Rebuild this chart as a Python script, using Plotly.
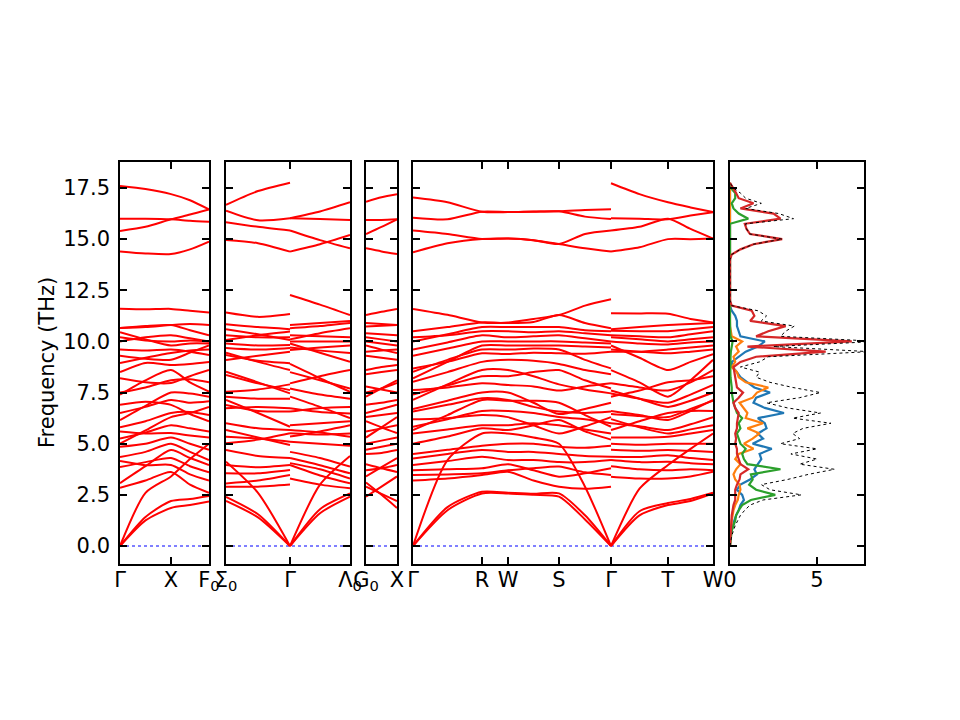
import plotly.graph_objects as go

# ---- band structure: frequencies (THz) of the 33 branches at sampled q-points ----
# (each list is in branch order, so branches can cross between q-points)
# panel 1: Gamma - X - F0
P1_K = [0.0, 0.255, 0.51, 0.70, 0.89]
P1_G = [0, 0, 0, 2.85, 4.15, 3.86, 3.07, 4.35, 4.85, 5.6, 5.25, 5.0, 5.8, 6.9, 6.5, 6.15, 8.2, 7.5,
        7.4, 8.5, 9.3, 8.95, 9.6, 10.45, 10.2, 10.0, 10.65, 10.65, 11.6, 14.4, 15.4, 16.0, 17.6]
P1_M1 = [1.25, 1.42, 2.6, 3.2, 3.95, 4.1, 3.9, 4.6, 5.0, 5.5, 5.55, 5.65, 6.1, 7.05, 6.8, 6.85, 8.0, 7.75,
         8.1, 8.95, 9.15, 9.2, 9.55, 10.1, 10.05, 10.2, 10.75, 10.7, 11.57, 14.3, 15.6, 16.0, 17.45]
X_PT = [1.86, 2.2, 3.4, 3.62, 3.96, 4.3, 4.69, 5.0, 5.3, 5.52, 5.9, 6.3, 6.5, 6.9, 7.14, 7.5, 7.97, 8.1,
        8.6, 8.85, 9.1, 9.43, 9.6, 9.8, 10.0, 10.3, 10.8, 10.8, 11.59, 14.27, 15.97, 15.97, 17.2]
P1_M2 = [2.0, 2.3, 4.25, 3.0, 3.5, 3.9, 4.3, 4.6, 5.0, 5.4, 5.75, 6.5, 6.55, 6.45, 7.0, 7.45, 8.3, 8.15,
         8.0, 8.9, 9.45, 9.55, 9.5, 9.9, 10.05, 10.15, 10.55, 10.85, 11.5, 14.5, 16.2, 15.9, 16.9]
P1_F0 = [2.17, 2.45, 5.0, 2.6, 3.2, 3.6, 3.96, 4.2, 4.7, 5.3, 5.6, 6.8, 6.4, 6.1, 7.07, 7.3, 8.6, 8.0,
         7.55, 9.0, 9.8, 9.6, 9.34, 9.9, 10.0, 10.0, 10.3, 10.8, 11.41, 14.88, 16.45, 15.85, 16.45]

# panel 2: Sigma0 - Gamma | Gamma - Lambda0
P2A_K = [0.0, 0.32, 0.64]
P2_S0 = [2.2, 2.4, 4.12, 2.9, 3.06, 3.55, 3.96, 4.69, 5.67, 5.34, 5.02, 6.0, 7.14, 6.89, 6.73, 7.3, 8.52, 8.36,
         7.54, 9.45, 9.34, 9.09, 9.68, 9.9, 10.6, 10.3, 10.07, 10.84, 11.41, 14.96, 15.83, 16.39, 16.67]
P2_M1 = [1.4, 1.55, 2.6, 2.9, 3.2, 3.55, 3.85, 4.4, 5.3, 5.25, 5.2, 5.75, 6.5, 6.6, 6.8, 7.2, 8.0, 7.95,
         7.65, 9.0, 9.05, 9.3, 9.6, 9.8, 10.35, 10.2, 10.3, 10.7, 11.2, 14.8, 15.6, 15.92, 17.35]
P2_GL = [0, 0, 0, 3.0, 3.47, 3.71, 3.96, 4.3, 4.94, 5.1, 5.51, 5.67, 5.83, 6.57, 6.73, 7.2, 7.46, 7.62,
         7.9, 8.6, 8.93, 9.5, 9.68, 9.83, 10.07, 10.2, 10.48, 10.6, 11.34, 14.39, 15.42, 16.02, 17.76]
P2B_K = [0.64, 0.94, 1.24]
P2_GR = [0, 0, 0, 3.3, 3.96, 4.05, 4.3, 4.6, 5.1, 5.35, 5.51, 5.67, 5.9, 6.57, 6.73, 7.3, 7.7, 7.95,
         8.5, 8.9, 9.58, 9.7, 9.9, 10.0, 10.1, 10.3, 10.64, 10.8, 12.27, 14.39, 15.42, 16.02, 16.02]
P2_M2 = [1.6, 1.8, 3.0, 3.0, 3.45, 3.75, 3.95, 4.3, 5.0, 5.6, 5.45, 5.55, 6.0, 6.75, 6.55, 6.8, 7.4, 8.3,
         8.1, 8.2, 9.7, 9.55, 9.45, 10.0, 10.4, 10.25, 10.75, 10.9, 11.8, 14.75, 14.95, 15.98, 16.35]
P2_L0 = [2.41, 2.57, 4.4, 2.82, 3.06, 3.3, 3.55, 3.88, 4.9, 5.9, 5.5, 5.34, 6.1, 6.8, 6.48, 6.25, 7.2, 8.6,
         7.7, 7.54, 9.8, 9.43, 9.0, 10.0, 10.64, 10.2, 10.9, 11.0, 11.29, 15.2, 14.55, 15.94, 16.8]

# panel 3: G0 - X
P3_K = [0.0, 0.155, 0.31]
P3_G0 = [3.1, 2.9, 2.41, 4.0, 3.7, 3.4, 4.5, 4.7, 5.0, 6.1, 5.6, 5.3, 6.3, 6.5, 6.9, 7.8, 7.5, 7.3,
         8.4, 8.6, 9.3, 9.8, 9.5, 10.0, 10.2, 10.4, 10.73, 10.9, 11.29, 14.55, 15.25, 15.94, 16.83]
P3_M = [2.5, 2.55, 2.9, 3.8, 3.8, 3.85, 4.55, 4.85, 5.15, 5.8, 5.75, 5.8, 6.4, 6.7, 7.0, 7.65, 7.7, 7.7,
        8.5, 8.75, 9.2, 9.6, 9.55, 9.9, 10.1, 10.35, 10.77, 10.85, 11.45, 14.4, 15.6, 15.94, 17.05]

# panel 4: Gamma - R - W - S - Gamma | Gamma - T - W
P4A_K = [0.0, 0.345, 0.69, 0.95, 1.205, 1.46, 1.72, 1.98]
P4_G1 = [0, 0, 3.2, 3.47, 3.7, 3.96, 4.28, 4.5, 0, 5.0, 5.5, 6.2, 5.83, 5.67, 6.57, 6.7, 7.62, 7.4,
         7.14, 8.03, 8.68, 8.52, 8.2, 9.3, 9.6, 10.2, 10.0, 10.5, 11.59, 14.36, 15.42, 16.05, 17.03]
P4_M1 = [1.75, 1.9, 3.3, 3.5, 3.75, 4.15, 4.5, 4.7, 4.2, 5.35, 5.7, 6.25, 6.2, 6.4, 6.9, 7.1, 7.75, 7.85,
         7.9, 8.5, 9.0, 9.1, 9.0, 9.65, 9.95, 10.3, 10.35, 10.7, 11.3, 14.8, 15.25, 15.97, 16.8]
P4_R = [2.57, 2.65, 3.47, 3.55, 3.8, 4.36, 4.69, 4.9, 5.5, 5.75, 5.9, 6.4, 6.6, 7.14, 7.22, 7.5, 7.95, 8.3,
        8.6, 9.0, 9.42, 9.6, 9.8, 10.0, 10.3, 10.5, 10.7, 10.93, 10.93, 15.01, 15.01, 16.34, 16.34]
W_PT = [2.57, 2.6, 3.63, 3.7, 4.0, 4.2, 4.6, 5.0, 5.5, 5.67, 5.9, 6.3, 6.6, 7.1, 7.14, 7.5, 7.87, 8.3,
        8.6, 9.1, 9.38, 9.6, 9.8, 10.0, 10.2, 10.5, 10.7, 10.9, 10.93, 15.03, 15.03, 16.32, 16.32]
P4_M2 = [2.5, 2.55, 3.2, 3.8, 3.7, 4.2, 4.6, 5.0, 5.3, 5.9, 6.0, 5.9, 6.5, 7.1, 6.8, 7.0, 7.8, 8.5,
         8.3, 9.05, 9.45, 9.65, 9.8, 10.0, 10.25, 10.45, 10.7, 10.95, 11.1, 14.95, 14.95, 16.34, 16.35]
P4_S = [2.41, 2.57, 2.9, 3.88, 3.39, 4.1, 4.5, 4.85, 5.0, 6.16, 5.9, 5.5, 6.3, 7.0, 6.57, 6.45, 7.6, 8.6,
        7.9, 8.9, 9.42, 9.6, 9.8, 10.0, 10.3, 10.5, 10.7, 11.29, 11.29, 14.76, 14.76, 16.36, 16.36]
P4_M3 = [1.3, 1.5, 2.8, 3.6, 3.55, 4.1, 4.4, 4.8, 2.9, 5.6, 5.7, 5.85, 6.2, 6.4, 6.5, 6.7, 7.8, 8.1,
         7.65, 8.6, 9.4, 9.1, 9.75, 9.95, 10.15, 10.4, 10.55, 10.9, 11.75, 14.55, 15.25, 16.1, 16.42]
P4_G2 = [0, 0, 2.9, 3.47, 3.8, 4.2, 4.36, 4.9, 0, 5.2, 5.5, 6.3, 6.0, 5.83, 6.57, 7.0, 7.95, 7.7,
         7.46, 8.4, 9.5, 8.68, 9.7, 9.9, 10.0, 10.3, 10.5, 10.64, 12.06, 14.39, 15.42, 15.98, 16.46]
P4B_K = [1.98, 2.265, 2.55, 2.775, 3.0]
P4_G3 = [0, 0, 3.39, 3.9, 4.2, 4.36, 4.7, 5.0, 0, 5.3, 6.2, 6.0, 5.67, 6.45, 6.6, 7.6, 7.45, 7.3,
         7.95, 8.6, 9.8, 9.6, 9.5, 10.0, 10.2, 10.3, 10.52, 10.6, 11.38, 14.39, 15.42, 16.02, 17.73]
P4_M4 = [1.5, 1.7, 3.3, 3.75, 4.1, 4.35, 4.65, 4.95, 2.8, 5.3, 5.8, 5.85, 6.1, 6.35, 6.4, 7.2, 7.2, 7.6,
         7.75, 8.0, 9.2, 9.5, 9.5, 9.9, 10.1, 10.25, 10.5, 10.7, 11.37, 14.6, 15.6, 16.0, 17.2]
P4_T = [2.0, 2.1, 3.3, 3.7, 4.12, 4.44, 4.69, 5.0, 3.96, 5.34, 5.5, 5.67, 6.5, 6.3, 6.16, 6.8, 7.0, 8.0,
        7.6, 7.3, 8.6, 9.42, 9.6, 9.85, 10.0, 10.2, 10.5, 10.8, 11.35, 15.0, 16.0, 15.97, 16.8]
P4_M5 = [2.2, 2.3, 3.4, 3.75, 4.05, 4.3, 4.65, 5.0, 4.75, 5.5, 5.7, 5.95, 6.6, 6.7, 6.6, 7.1, 7.4, 8.1,
         8.0, 8.1, 9.0, 9.5, 9.7, 9.95, 10.1, 10.35, 10.6, 10.85, 11.1, 15.0, 15.5, 16.15, 16.55]

# tick labels of each band panel
P1_TICKS = [0.0, 0.51, 0.89]
P1_LABELS = ["Γ", "X", "F<sub>0</sub>"]
P2_TICKS = [0.0, 0.64, 1.24]
P2_LABELS = ["Σ<sub>0</sub>", "Γ", "Λ<sub>0</sub>"]
P3_TICKS = [0.0, 0.31]
P3_LABELS = ["G<sub>0</sub>", "X"]
P4_TICKS = [0.0, 0.69, 0.95, 1.46, 1.98, 2.55, 3.0]
P4_LABELS = ["Γ", "R", "W", "S", "Γ", "T", "W"]

# ---- density of states ----
DOS_FREQ = [0.0, 0.25, 0.5, 0.75, 1.0, 1.25, 1.5, 1.75, 2.0, 2.25, 2.5, 2.75, 3.0, 3.25, 3.5, 3.75,
            4.0, 4.25, 4.5, 4.75, 5.0, 5.25, 5.5, 5.75, 6.0, 6.25, 6.5, 6.75, 7.0, 7.25, 7.5, 7.75,
            8.0, 8.25, 8.5, 8.75, 9.0, 9.25, 9.5, 9.75, 10.0, 10.25, 10.5, 10.75, 11.0, 11.25, 11.5, 11.75,
            12.0, 12.25, 12.5, 12.75, 13.0, 13.25, 13.5, 13.75, 14.0, 14.25, 14.5, 14.75, 15.0, 15.25, 15.5, 15.75,
            16.0, 16.25, 16.5, 16.75, 17.0, 17.25, 17.5, 17.75]
DOS_TOTAL = [0, 0.03, 0.1, 0.2, 0.3, 0.45, 0.6, 0.85, 1.15, 1.9, 4.1, 2.3, 1.8, 3.3, 4.5, 6.0,
             4.0, 5.0, 3.5, 5.0, 2.9, 4.0, 3.6, 4.2, 5.8, 3.6, 5.2, 3.3, 2.1, 4.0, 5.2, 3.6,
             2.3, 1.5, 1.7, 0.6, 1.7, 2.2, 8.0, 2.5, 8.5, 2.9, 3.2, 3.7, 1.8, 2.1, 1.6, 0.1,
             0, 0, 0, 0, 0, 0, 0, 0, 0, 0.1, 0.6, 1.35, 3.0, 1.15, 0.95, 0.9,
             3.65, 2.8, 0.9, 1.8, 0.9, 0.6, 0.2, 0]
DOS_BLUE = [0, 0.01, 0.03, 0.08, 0.15, 0.25, 0.35, 0.5, 0.6, 0.8, 0.7, 0.4, 0.6, 1.15, 1.55, 1.4,
            1.6, 1.8, 1.7, 2.4, 1.3, 1.9, 1.6, 2.1, 2.0, 1.6, 3.1, 2.0, 1.35, 1.5, 2.3, 1.4,
            1.0, 0.6, 0.4, 0.15, 0.1, 0.5, 0.9, 1.6, 2.0, 0.6, 0.5, 0.4, 0.4, 0.3, 0.1, 0,
            0, 0, 0, 0, 0, 0, 0, 0, 0, 0, 0, 0, 0, 0, 0, 0,
            0, 0, 0, 0, 0, 0, 0, 0]
DOS_ORANGE = [0, 0.01, 0.03, 0.05, 0.08, 0.1, 0.15, 0.2, 0.3, 0.45, 0.5, 0.6, 0.55, 0.3, 0.2, 0.35,
              0.6, 0.3, 0.5, 1.35, 0.8, 1.3, 1.7, 1.0, 1.9, 0.9, 1.0, 0.8, 0.55, 1.3, 1.55, 2.2,
              0.9, 0.5, 0.4, 0.1, 0.3, 0.2, 0.5, 0.35, 0.7, 0.1, 0.05, 0, 0, 0, 0, 0,
              0, 0, 0, 0, 0, 0, 0, 0, 0, 0, 0, 0, 0, 0, 0, 0,
              0, 0, 0, 0, 0, 0, 0, 0]
DOS_GREEN = [0, 0.02, 0.05, 0.1, 0.2, 0.3, 0.35, 0.5, 0.7, 1.2, 2.6, 1.5, 1.1, 1.3, 1.2, 2.9,
             1.0, 0.8, 0.7, 0.9, 0.6, 0.5, 0.4, 0.6, 0.5, 0.7, 0.4, 0.3, 0.2, 0.15, 0.1, 0.1,
             0.05, 0.03, 0.02, 0.01, 0.02, 0.03, 0.05, 0.1, 0.15, 0.02, 0, 0, 0, 0, 0, 0,
             0, 0, 0, 0, 0, 0, 0, 0, 0, 0, 0, 0, 0, 0, 0, 0,
             1.05, 0.5, 0.2, 0.1, 0.3, 0.3, 0.05, 0]
DOS_RED = [0, 0.01, 0.02, 0.03, 0.05, 0.08, 0.1, 0.15, 0.2, 0.3, 0.3, 0.3, 0.4, 0.55, 0.6, 1.05,
           0.6, 0.5, 0.4, 0.4, 0.3, 0.35, 0.3, 0.4, 0.4, 0.45, 0.5, 0.3, 0.2, 0.5, 0.75, 0.4,
           0.35, 0.3, 0.25, 0.2, 0.6, 1.5, 5.5, 1.0, 7.0, 1.5, 2.2, 3.2, 1.16, 1.4, 1.25, 0.1,
           0, 0, 0, 0, 0, 0, 0, 0, 0, 0.1, 0.6, 1.35, 3.0, 1.15, 0.95, 0.85,
           2.9, 2.5, 0.6, 1.35, 0.5, 0.35, 0.15, 0]

FREQ_TICKS = [0, 2.5, 5, 7.5, 10, 12.5, 15, 17.5]

pieces = [
    ("x", "y", P1_K, [P1_G, P1_M1, X_PT, P1_M2, P1_F0]),
    ("x2", "y2", P2A_K, [P2_S0, P2_M1, P2_GL]),
    ("x2", "y2", P2B_K, [P2_GR, P2_M2, P2_L0]),
    ("x3", "y3", P3_K, [P3_G0, P3_M, X_PT]),
    ("x4", "y4", P4A_K, [P4_G1, P4_M1, P4_R, W_PT, P4_M2, P4_S, P4_M3, P4_G2]),
    ("x4", "y4", P4B_K, [P4_G3, P4_M4, P4_T, P4_M5, W_PT]),
]

fig = go.Figure()
for xa, ya, ks, nodes in pieces:
    for n in nodes:
        assert len(n) == 33
    for b in range(33):
        fig.add_trace(go.Scatter(x=ks, y=[n[b] for n in nodes], mode="lines",
                                 line=dict(color="red", width=2, shape="spline", smoothing=0.7),
                                 xaxis=xa, yaxis=ya, showlegend=False, hoverinfo="skip"))

for vals, col in [(DOS_BLUE, "#1f77b4"), (DOS_ORANGE, "#ff7f0e"), (DOS_GREEN, "#2ca02c"), (DOS_RED, "#d62728")]:
    fig.add_trace(go.Scatter(x=vals, y=DOS_FREQ, mode="lines", line=dict(color=col, width=2.2),
                             xaxis="x5", yaxis="y5", showlegend=False))
fig.add_trace(go.Scatter(x=DOS_TOTAL, y=DOS_FREQ, mode="lines", line=dict(color="black", width=1, dash="dot"),
                         xaxis="x5", yaxis="y5", showlegend=False))

W, H = 960, 720
OFF = 8  # the page body adds 8 px around the figure
ydom = [1 - (564 - OFF) / H, 1 - (162 - OFF) / H]
frame = dict(showline=True, linecolor="black", linewidth=1.6, mirror="ticks", ticks="inside",
             ticklen=7, tickwidth=1.6, tickcolor="black", showgrid=False, zeroline=False,
             automargin=False, tickangle=0, tickfont=dict(family="DejaVu Sans", size=21, color="black"))
yframe = dict(frame, range=[-0.88, 18.77], tickvals=FREQ_TICKS, tickformat=".1f", domain=ydom,
              ticklabelstandoff=4)

panels = [
    ([120, 209], [0, 0.89], P1_TICKS, P1_LABELS),
    ([226, 350], [0, 1.24], P2_TICKS, P2_LABELS),
    ([366, 397], [0, 0.31], P3_TICKS, P3_LABELS),
    ([413, 713], [0, 3.0], P4_TICKS, P4_LABELS),
    ([730, 864], [0, 7.7], [0, 5], ["0", "5"]),
]
layout = {}
for i, (px, rng, tv, tt) in enumerate(panels, start=1):
    sfx = "" if i == 1 else str(i)
    layout["xaxis" + sfx] = dict(frame, domain=[(px[0] - OFF) / W, (px[1] - OFF) / W], range=rng,
                                 tickvals=tv, ticktext=tt, anchor="y" + sfx, ticklabelstandoff=-4)
    layout["yaxis" + sfx] = dict(yframe, anchor="x" + sfx, showticklabels=(i == 1))

shapes = []
for sfx in ["", "2", "3", "4"]:
    shapes.append(dict(type="line", xref="x" + sfx + " domain", x0=0, x1=1, yref="y" + sfx, y0=0, y1=0,
                       line=dict(color="blue", width=1, dash="dot"), layer="below"))

fig.update_layout(width=W, height=H, margin=dict(l=0, r=0, t=0, b=0), autosize=False,
                  template="none", paper_bgcolor="white", plot_bgcolor="white", showlegend=False,
                  font=dict(family="DejaVu Sans", size=21, color="black"), shapes=shapes,
                  annotations=[dict(text="Frequency (THz)", x=(47 - OFF) / W, y=1 - (363 - OFF) / H,
                                    xref="paper", yref="paper", xanchor="center", yanchor="middle",
                                    showarrow=False, textangle=-90, font=dict(family="DejaVu Sans", size=21))],
                  **layout)

fig.write_html("out.html")
